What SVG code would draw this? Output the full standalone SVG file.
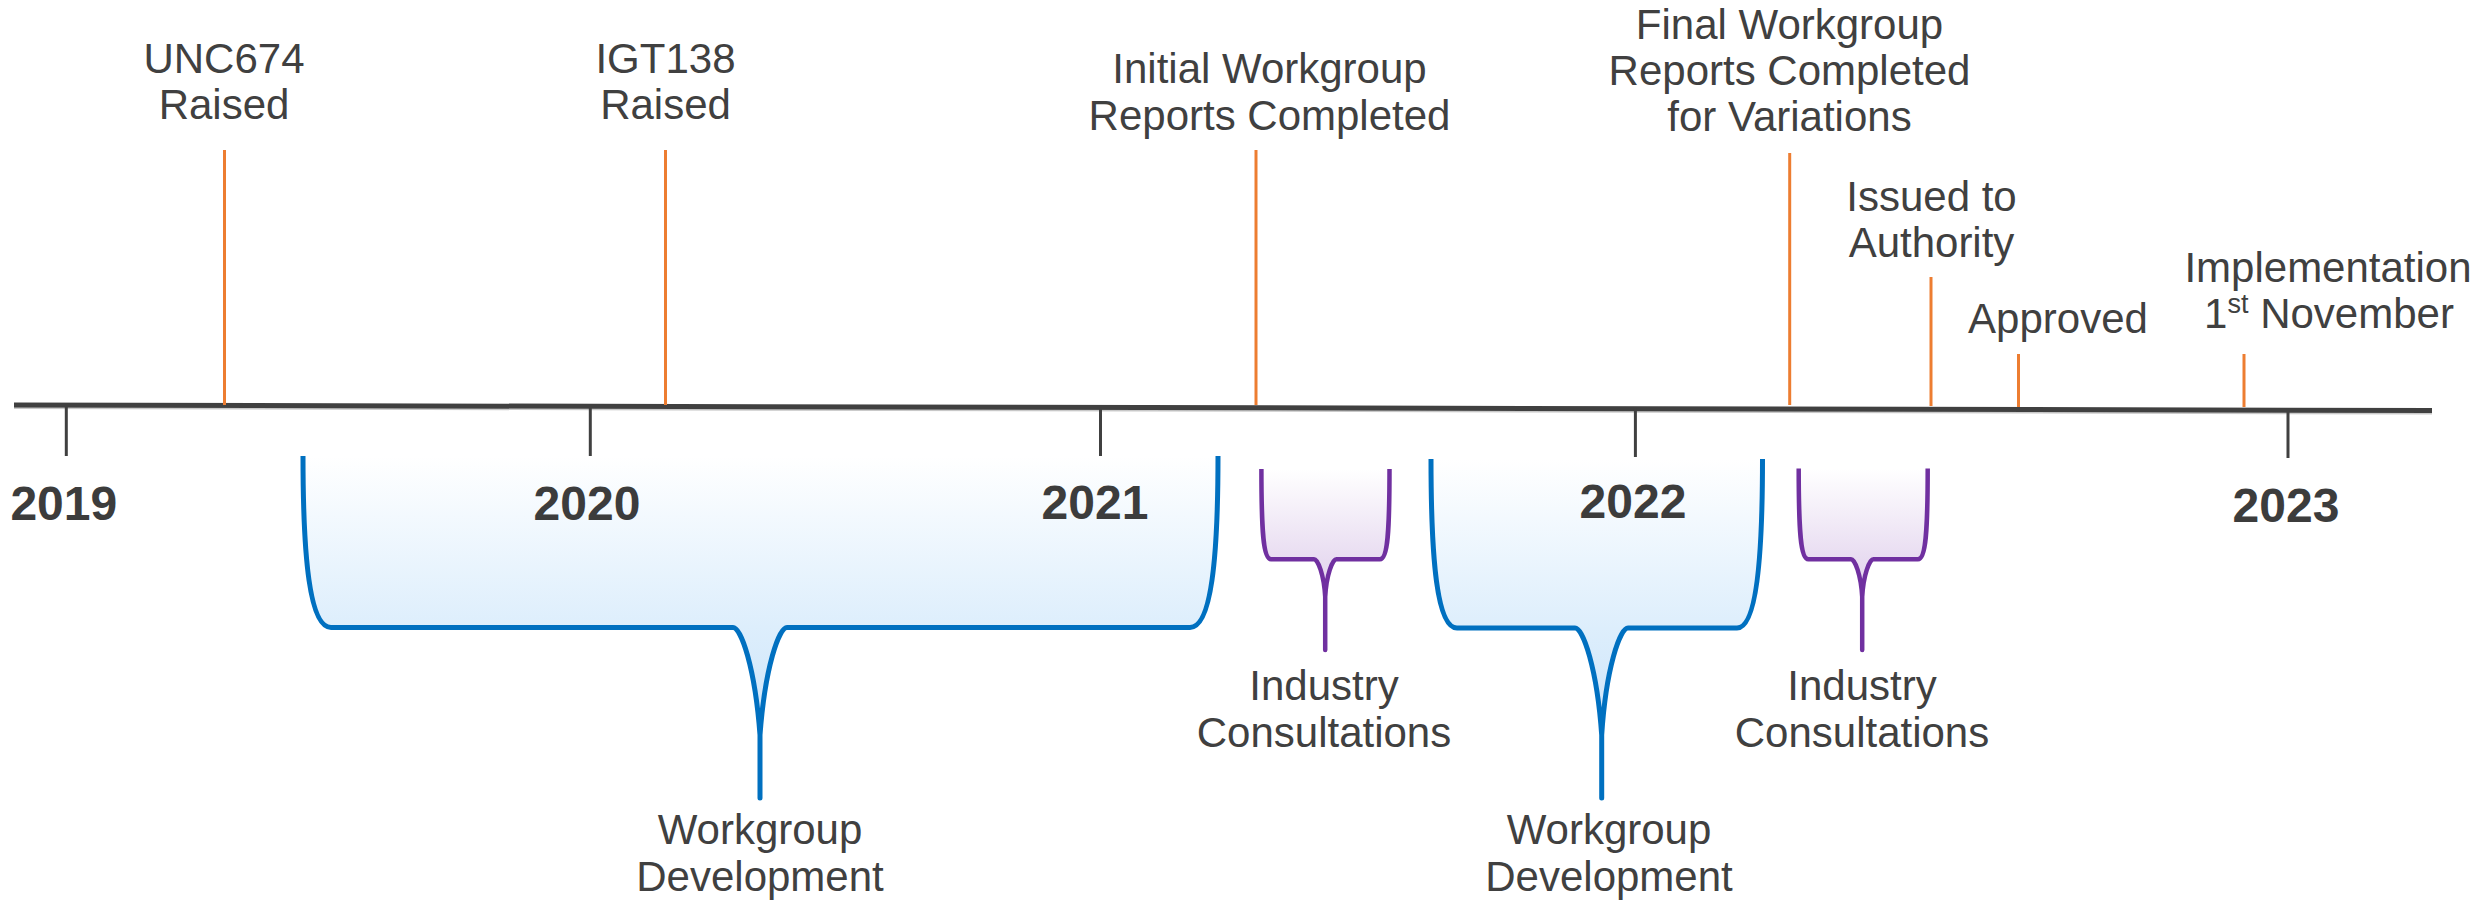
<svg xmlns="http://www.w3.org/2000/svg" width="2481" height="900" viewBox="0 0 2481 900">
<style>
.lbl{font-family:"Liberation Sans",Arial,sans-serif;font-size:42px;fill:#404040;text-anchor:middle}
.yr{font-family:"Liberation Sans",Arial,sans-serif;font-size:48px;font-weight:bold;fill:#3c3c3c;text-anchor:middle}
.tick{stroke:#404040;stroke-width:3;fill:none}
.ms{stroke:#ED7D31;stroke-width:3;fill:none}
.bb{stroke:#0070C0;stroke-width:5;fill:url(#gb);stroke-linejoin:round}
.pb{stroke:#7030A0;stroke-width:4.5;fill:url(#gp);stroke-linejoin:round}
</style>
<defs>
<linearGradient id="gb" x1="0" y1="0" x2="0" y2="1">
<stop offset="0" stop-color="#FFFFFF"/>
<stop offset="0.5" stop-color="#DDEEFC"/>
<stop offset="1" stop-color="#C2DFF9"/>
</linearGradient>
<linearGradient id="gp" x1="0" y1="0" x2="0" y2="1">
<stop offset="0" stop-color="#FFFFFF"/>
<stop offset="0.5" stop-color="#E8DCF1"/>
<stop offset="1" stop-color="#DCC8EA"/>
</linearGradient>
</defs>
<rect width="2481" height="900" fill="#FFFFFF"/>

<g id="axis">
<line x1="14" y1="408" x2="2432" y2="413.5" stroke="#C8C8C8" stroke-width="2"/>
<line x1="14" y1="405" x2="2432" y2="410.5" stroke="#404040" stroke-width="5"/>
<line class="tick" x1="66.3" y1="405" x2="66.3" y2="456"/>
<line class="tick" x1="590.3" y1="406" x2="590.3" y2="456"/>
<line class="tick" x1="1100.5" y1="407" x2="1100.5" y2="456"/>
<line class="tick" x1="1635.4" y1="408" x2="1635.4" y2="457"/>
<line class="tick" x1="2288" y1="410" x2="2288" y2="458"/>
</g>

<g id="connectors">
<line class="ms" x1="224.5" y1="150" x2="224.5" y2="405"/>
<line class="ms" x1="665.5" y1="150" x2="665.5" y2="405"/>
<line class="ms" x1="1256" y1="150" x2="1256" y2="405"/>
<line class="ms" x1="1789.7" y1="153" x2="1789.7" y2="405"/>
<line class="ms" x1="1931" y1="277" x2="1931" y2="406"/>
<line class="ms" x1="2018.5" y1="354" x2="2018.5" y2="407"/>
<line class="ms" x1="2244" y1="354" x2="2244" y2="407"/>
</g>

<g id="unc674">
<text class="lbl" x="224" y="73.3">UNC674</text>
<text class="lbl" x="224" y="119.3">Raised</text>
</g>
<g id="igt138">
<text class="lbl" x="665.5" y="73.3">IGT138</text>
<text class="lbl" x="665.5" y="119.3">Raised</text>
</g>
<g id="initial-reports">
<text class="lbl" x="1269.5" y="83.3">Initial Workgroup</text>
<text class="lbl" x="1269.5" y="130">Reports Completed</text>
</g>
<g id="final-reports">
<text class="lbl" x="1789.5" y="39">Final Workgroup</text>
<text class="lbl" x="1789.5" y="85">Reports Completed</text>
<text class="lbl" x="1789.5" y="131">for Variations</text>
</g>
<g id="issued">
<text class="lbl" x="1931.5" y="210.7">Issued to</text>
<text class="lbl" x="1931.5" y="256.7">Authority</text>
</g>
<g id="approved">
<text class="lbl" x="2058" y="333.3">Approved</text>
</g>
<g id="implementation">
<text class="lbl" x="2328" y="281.7">Implementation</text>
<text class="lbl" x="2329" y="328.3">1<tspan font-size="27" dy="-15">st</tspan><tspan dy="15"> November</tspan></text>
</g>

<g id="workgroup-dev-1">
<path class="bb" d="M303 456 C303 560 310 627.5 331 627.5 H733 C741 627.5 755 667 760 735 V798 V735 C765 667 779 627.5 787 627.5 H1190 C1211 627.5 1218 560 1218 456"/>
<text class="lbl" x="760" y="844">Workgroup</text>
<text class="lbl" x="760" y="890.7">Development</text>
</g>

<g id="workgroup-dev-2">
<path class="bb" d="M1431 459 C1431 560 1437 628 1457 628 H1575 C1583 628 1597 668 1601.7 735 V798 V735 C1606 668 1620 628 1628 628 H1737 C1756 628 1762.5 560 1762.5 459"/>
<text class="lbl" x="1609" y="844">Workgroup</text>
<text class="lbl" x="1609" y="890.7">Development</text>
</g>

<g id="consult-1">
<path class="pb" d="M1261.4 469 C1261.4 530 1263 559.3 1271 559.3 H1314 C1318 559.3 1324 575 1325.2 597 V650 V597 C1326.4 575 1332.4 559.3 1336.4 559.3 H1380 C1388 559.3 1389.5 530 1389.5 469"/>
<text class="lbl" x="1324" y="700">Industry</text>
<text class="lbl" x="1324" y="746.7">Consultations</text>
</g>

<g id="consult-2">
<path class="pb" d="M1798.7 468.5 C1798.7 530 1800.3 559.3 1808.3 559.3 H1851 C1855 559.3 1861 575 1862.2 597 V650 V597 C1863.4 575 1869.4 559.3 1873.4 559.3 H1918 C1926 559.3 1927.7 530 1927.7 468.5"/>
<text class="lbl" x="1862" y="700">Industry</text>
<text class="lbl" x="1862" y="746.7">Consultations</text>
</g>

<g id="years">
<text class="yr" x="63.8" y="520">2019</text>
<text class="yr" x="587" y="520">2020</text>
<text class="yr" x="1095" y="519">2021</text>
<text class="yr" x="1633" y="518">2022</text>
<text class="yr" x="2286" y="521.7">2023</text>
</g>
</svg>
